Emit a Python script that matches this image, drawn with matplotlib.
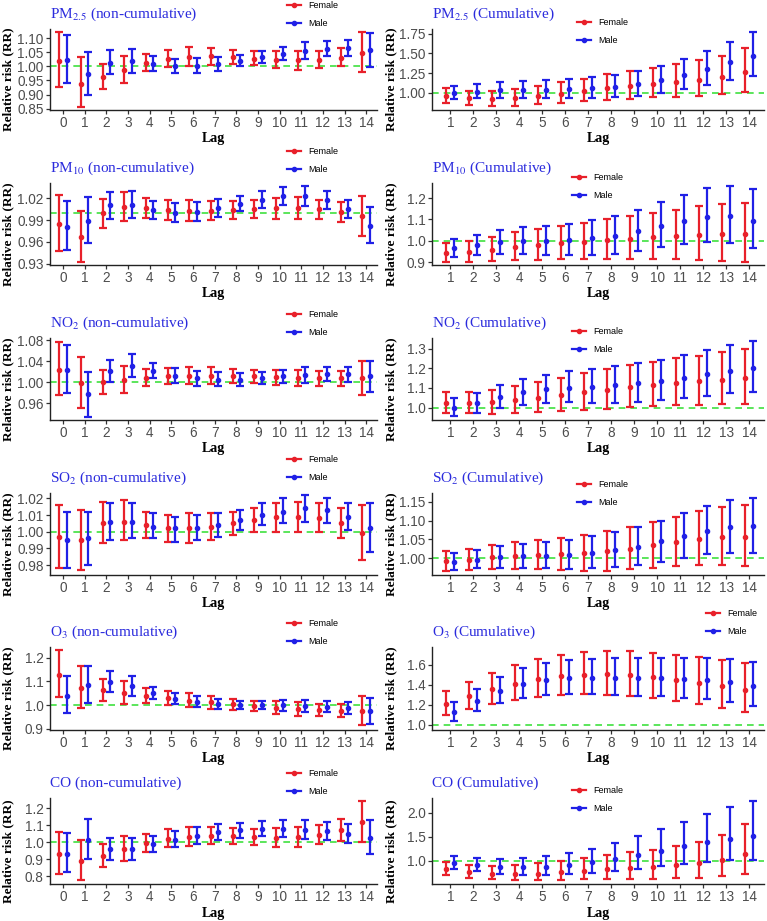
import numpy as np
import matplotlib
matplotlib.use("Agg")
import matplotlib.pyplot as plt
from matplotlib.lines import Line2D
from matplotlib.ticker import FormatStrFormatter

plt.rcParams['font.family'] = ['Liberation Sans', 'DejaVu Sans']
plt.rcParams['mathtext.fontset'] = 'stix'

lags_nc = list(range(0, 15))
lags_c = list(range(1, 15))

# PM2.5 non-cumulative
pm25_nc_f = [1.018, 0.939, 0.963, 0.988, 1.012, 1.027, 1.035, 1.036, 1.033, 1.028, 1.024, 1.021, 1.023, 1.031, 1.048]
pm25_nc_f_lo = [0.926, 0.855, 0.918, 0.942, 0.982, 0.998, 1.002, 1.006, 1.008, 1.004, 0.994, 0.988, 0.994, 1.000, 0.980]
pm25_nc_f_hi = [1.123, 1.032, 1.010, 1.038, 1.043, 1.058, 1.068, 1.066, 1.058, 1.054, 1.055, 1.055, 1.053, 1.064, 1.122]
pm25_nc_m = [1.022, 0.972, 1.013, 1.018, 1.008, 1.001, 1.002, 1.009, 1.020, 1.032, 1.045, 1.056, 1.062, 1.064, 1.057]
pm25_nc_m_lo = [0.940, 0.898, 0.972, 0.975, 0.985, 0.977, 0.976, 0.983, 1.000, 1.012, 1.022, 1.025, 1.037, 1.036, 0.998]
pm25_nc_m_hi = [1.112, 1.052, 1.057, 1.063, 1.036, 1.027, 1.030, 1.034, 1.040, 1.054, 1.070, 1.085, 1.090, 1.094, 1.120]

# PM2.5 cumulative
pm25_c_f = [0.962, 0.930, 0.915, 0.930, 0.955, 0.985, 1.020, 1.055, 1.085, 1.115, 1.140, 1.165, 1.205, 1.265]
pm25_c_f_lo = [0.870, 0.845, 0.825, 0.835, 0.855, 0.870, 0.890, 0.905, 0.925, 0.940, 0.950, 0.960, 0.985, 1.010]
pm25_c_f_hi = [1.060, 1.025, 1.020, 1.045, 1.080, 1.130, 1.180, 1.235, 1.280, 1.320, 1.365, 1.415, 1.470, 1.570]
pm25_c_m = [0.995, 1.010, 1.030, 1.035, 1.040, 1.045, 1.055, 1.075, 1.110, 1.160, 1.220, 1.300, 1.385, 1.465]
pm25_c_m_lo = [0.920, 0.930, 0.935, 0.935, 0.935, 0.930, 0.930, 0.940, 0.960, 1.000, 1.050, 1.100, 1.165, 1.215]
pm25_c_m_hi = [1.080, 1.105, 1.135, 1.155, 1.165, 1.175, 1.195, 1.230, 1.280, 1.340, 1.430, 1.535, 1.645, 1.770]

# PM10 non-cumulative
pm10_nc_f = [0.984, 0.966, 0.999, 1.008, 1.006, 1.004, 1.003, 1.003, 1.004, 1.005, 1.006, 1.006, 1.005, 1.001, 0.995]
pm10_nc_f_lo = [0.947, 0.932, 0.979, 0.989, 0.993, 0.990, 0.988, 0.990, 0.992, 0.993, 0.992, 0.991, 0.991, 0.987, 0.968]
pm10_nc_f_hi = [1.024, 1.003, 1.019, 1.029, 1.020, 1.018, 1.017, 1.016, 1.016, 1.018, 1.020, 1.022, 1.018, 1.015, 1.023]
pm10_nc_m = [0.981, 0.989, 1.010, 1.011, 1.004, 1.000, 1.001, 1.006, 1.012, 1.018, 1.023, 1.023, 1.017, 1.005, 0.982]
pm10_nc_m_lo = [0.948, 0.958, 0.992, 0.993, 0.991, 0.987, 0.988, 0.994, 1.002, 1.007, 1.010, 1.009, 1.005, 0.993, 0.958]
pm10_nc_m_hi = [1.016, 1.022, 1.029, 1.030, 1.016, 1.013, 1.015, 1.019, 1.023, 1.030, 1.035, 1.037, 1.030, 1.018, 1.008]

# PM10 cumulative
pm10_c_f = [0.945, 0.948, 0.960, 0.974, 0.981, 0.989, 0.996, 1.003, 1.009, 1.017, 1.023, 1.029, 1.032, 1.031]
pm10_c_f_lo = [0.902, 0.900, 0.907, 0.911, 0.912, 0.914, 0.914, 0.914, 0.914, 0.914, 0.914, 0.912, 0.908, 0.903]
pm10_c_f_hi = [0.992, 0.999, 1.020, 1.040, 1.055, 1.070, 1.085, 1.100, 1.115, 1.130, 1.146, 1.161, 1.171, 1.178]
pm10_c_m = [0.967, 0.980, 0.993, 1.000, 1.002, 1.005, 1.012, 1.025, 1.045, 1.070, 1.095, 1.113, 1.116, 1.095]
pm10_c_m_lo = [0.925, 0.933, 0.939, 0.939, 0.936, 0.933, 0.933, 0.940, 0.953, 0.970, 0.987, 0.995, 0.991, 0.967]
pm10_c_m_hi = [1.011, 1.030, 1.050, 1.065, 1.072, 1.080, 1.096, 1.117, 1.146, 1.180, 1.216, 1.246, 1.258, 1.241]

# NO2 non-cumulative
no2_nc_f = [1.024, 0.998, 1.000, 1.005, 1.008, 1.011, 1.012, 1.012, 1.012, 1.011, 1.009, 1.008, 1.007, 1.007, 1.007]
no2_nc_f_lo = [0.975, 0.950, 0.977, 0.980, 0.992, 0.996, 0.996, 0.996, 0.999, 0.998, 0.995, 0.993, 0.993, 0.992, 0.975]
no2_nc_f_hi = [1.077, 1.048, 1.024, 1.030, 1.025, 1.027, 1.029, 1.028, 1.025, 1.024, 1.024, 1.024, 1.022, 1.022, 1.040]
no2_nc_m = [1.024, 0.977, 1.022, 1.031, 1.021, 1.012, 1.007, 1.005, 1.005, 1.008, 1.011, 1.013, 1.015, 1.015, 1.011]
no2_nc_m_lo = [0.980, 0.934, 1.001, 1.009, 1.007, 0.998, 0.992, 0.992, 0.993, 0.997, 0.999, 0.999, 1.002, 1.001, 0.982]
no2_nc_m_hi = [1.070, 1.020, 1.043, 1.054, 1.037, 1.026, 1.022, 1.019, 1.017, 1.019, 1.024, 1.028, 1.028, 1.029, 1.041]

# NO2 cumulative
no2_c_f = [1.022, 1.023, 1.028, 1.038, 1.051, 1.064, 1.077, 1.091, 1.103, 1.114, 1.124, 1.133, 1.142, 1.151]
no2_c_f_lo = [0.973, 0.972, 0.970, 0.972, 0.978, 0.982, 0.989, 0.995, 1.002, 1.007, 1.011, 1.014, 1.018, 1.020]
no2_c_f_hi = [1.078, 1.080, 1.092, 1.110, 1.130, 1.152, 1.176, 1.197, 1.216, 1.232, 1.250, 1.265, 1.281, 1.298]
no2_c_m = [1.000, 1.022, 1.056, 1.079, 1.093, 1.102, 1.107, 1.114, 1.124, 1.136, 1.153, 1.170, 1.188, 1.203]
no2_c_m_lo = [0.955, 0.975, 1.000, 1.015, 1.023, 1.026, 1.024, 1.025, 1.030, 1.038, 1.050, 1.060, 1.074, 1.080]
no2_c_m_hi = [1.050, 1.075, 1.115, 1.148, 1.167, 1.184, 1.198, 1.210, 1.228, 1.244, 1.266, 1.292, 1.316, 1.340]

# SO2 non-cumulative
so2_nc_f = [0.997, 0.995, 1.005, 1.006, 1.004, 1.002, 1.002, 1.003, 1.005, 1.007, 1.009, 1.009, 1.008, 1.005, 0.999]
so2_nc_f_lo = [0.978, 0.977, 0.993, 0.995, 0.996, 0.994, 0.993, 0.995, 0.998, 1.000, 1.000, 1.000, 1.000, 0.996, 0.983]
so2_nc_f_hi = [1.016, 1.013, 1.018, 1.019, 1.012, 1.010, 1.011, 1.011, 1.012, 1.014, 1.017, 1.018, 1.017, 1.014, 1.016]
so2_nc_m = [0.995, 0.996, 1.006, 1.006, 1.003, 1.002, 1.002, 1.004, 1.007, 1.010, 1.012, 1.014, 1.013, 1.009, 1.002]
so2_nc_m_lo = [0.978, 0.980, 0.995, 0.996, 0.996, 0.994, 0.995, 0.997, 1.001, 1.004, 1.005, 1.006, 1.005, 1.001, 0.988]
so2_nc_m_hi = [1.012, 1.012, 1.017, 1.017, 1.011, 1.009, 1.010, 1.011, 1.013, 1.017, 1.020, 1.022, 1.020, 1.017, 1.017]

# SO2 cumulative
so2_c_f = [0.992, 0.996, 1.003, 1.006, 1.008, 1.010, 1.013, 1.018, 1.025, 1.034, 1.044, 1.052, 1.057, 1.056]
so2_c_f_lo = [0.967, 0.969, 0.971, 0.971, 0.970, 0.968, 0.967, 0.967, 0.971, 0.975, 0.979, 0.983, 0.983, 0.978]
so2_c_f_hi = [1.018, 1.025, 1.036, 1.044, 1.049, 1.055, 1.063, 1.072, 1.084, 1.097, 1.111, 1.126, 1.137, 1.141]
so2_c_m = [0.991, 0.996, 1.003, 1.006, 1.007, 1.009, 1.014, 1.021, 1.031, 1.045, 1.059, 1.072, 1.082, 1.085]
so2_c_m_lo = [0.969, 0.973, 0.974, 0.975, 0.974, 0.972, 0.973, 0.976, 0.983, 0.991, 1.001, 1.010, 1.015, 1.014]
so2_c_m_hi = [1.015, 1.021, 1.032, 1.039, 1.043, 1.049, 1.058, 1.069, 1.083, 1.100, 1.120, 1.139, 1.154, 1.161]

# O3 non-cumulative
o3_nc_f = [1.127, 1.073, 1.063, 1.053, 1.040, 1.030, 1.019, 1.011, 1.003, 0.994, 0.987, 0.982, 0.978, 0.976, 0.975]
o3_nc_f_lo = [1.032, 0.989, 1.016, 1.004, 1.010, 1.002, 0.990, 0.983, 0.979, 0.973, 0.963, 0.954, 0.952, 0.949, 0.915]
o3_nc_f_hi = [1.232, 1.166, 1.112, 1.102, 1.072, 1.060, 1.052, 1.040, 1.025, 1.016, 1.015, 1.012, 1.006, 1.005, 1.039]
o3_nc_m = [1.040, 1.085, 1.098, 1.080, 1.050, 1.027, 1.012, 1.003, 0.999, 0.998, 0.998, 0.997, 0.993, 0.987, 0.974]
o3_nc_m_lo = [0.965, 1.010, 1.055, 1.038, 1.026, 1.005, 0.990, 0.983, 0.983, 0.982, 0.976, 0.972, 0.970, 0.963, 0.921]
o3_nc_m_hi = [1.123, 1.166, 1.143, 1.125, 1.077, 1.053, 1.040, 1.027, 1.018, 1.017, 1.022, 1.022, 1.019, 1.011, 1.029]

# O3 cumulative
o3_c_f = [1.210, 1.289, 1.357, 1.413, 1.457, 1.487, 1.502, 1.505, 1.497, 1.478, 1.453, 1.421, 1.388, 1.352]
o3_c_f_lo = [1.097, 1.160, 1.210, 1.250, 1.282, 1.302, 1.306, 1.302, 1.288, 1.268, 1.240, 1.205, 1.170, 1.127]
o3_c_f_hi = [1.342, 1.430, 1.520, 1.598, 1.656, 1.698, 1.727, 1.740, 1.738, 1.722, 1.702, 1.675, 1.645, 1.622]
o3_c_m = [1.130, 1.243, 1.343, 1.410, 1.450, 1.468, 1.473, 1.470, 1.468, 1.465, 1.460, 1.450, 1.430, 1.392]
o3_c_m_lo = [1.035, 1.135, 1.215, 1.267, 1.297, 1.308, 1.310, 1.298, 1.291, 1.284, 1.272, 1.258, 1.232, 1.185]
o3_c_m_hi = [1.233, 1.361, 1.483, 1.573, 1.622, 1.648, 1.662, 1.670, 1.671, 1.670, 1.673, 1.672, 1.658, 1.632]

# CO non-cumulative
co_nc_f = [0.929, 0.889, 0.919, 0.959, 0.997, 1.021, 1.033, 1.037, 1.035, 1.029, 1.026, 1.031, 1.043, 1.071, 1.118]
co_nc_f_lo = [0.813, 0.781, 0.852, 0.888, 0.945, 0.971, 0.978, 0.988, 0.991, 0.983, 0.972, 0.972, 0.989, 1.010, 1.003]
co_nc_f_hi = [1.059, 1.013, 0.991, 1.034, 1.050, 1.076, 1.091, 1.088, 1.081, 1.077, 1.083, 1.091, 1.101, 1.135, 1.245]
co_nc_m = [0.932, 1.013, 0.959, 0.960, 0.987, 1.016, 1.039, 1.059, 1.071, 1.079, 1.079, 1.074, 1.064, 1.048, 1.026]
co_nc_m_lo = [0.826, 0.902, 0.895, 0.895, 0.943, 0.970, 0.990, 1.015, 1.028, 1.034, 1.029, 1.019, 1.014, 0.998, 0.932]
co_nc_m_hi = [1.052, 1.138, 1.026, 1.028, 1.034, 1.065, 1.091, 1.107, 1.115, 1.125, 1.133, 1.131, 1.117, 1.106, 1.131]

# CO cumulative
co_c_f = [0.830, 0.765, 0.740, 0.725, 0.740, 0.770, 0.800, 0.830, 0.860, 0.885, 0.920, 0.955, 1.025, 1.140]
co_c_f_lo = [0.700, 0.655, 0.625, 0.610, 0.605, 0.615, 0.625, 0.625, 0.630, 0.635, 0.640, 0.655, 0.690, 0.740]
co_c_f_hi = [0.975, 0.910, 0.895, 0.915, 0.955, 0.995, 1.060, 1.120, 1.180, 1.235, 1.310, 1.395, 1.535, 1.760]
co_c_m = [0.955, 0.915, 0.880, 0.865, 0.880, 0.915, 0.970, 1.040, 1.120, 1.215, 1.305, 1.390, 1.460, 1.505]
co_c_m_lo = [0.840, 0.785, 0.735, 0.720, 0.720, 0.725, 0.750, 0.790, 0.840, 0.890, 0.940, 0.980, 1.010, 1.010]
co_c_m_hi = [1.095, 1.065, 1.050, 1.055, 1.100, 1.160, 1.255, 1.370, 1.510, 1.650, 1.810, 1.970, 2.110, 2.230]

RED = '#E8202A'
BLUE = '#2020E6'
TITLE_BLUE = '#2B2BDD'

# (title, lags, female, female lo/hi, male, male lo/hi, yticks, ylim, fmt, legend px (x, y))
panels = [
    (r'PM$_{\mathrm{2.5}}$ (non-cumulative)', lags_nc, pm25_nc_f, pm25_nc_f_lo, pm25_nc_f_hi, pm25_nc_m, pm25_nc_m_lo, pm25_nc_m_hi,
     [0.85, 0.90, 0.95, 1.00, 1.05, 1.10], (0.845, 1.133), '%.2f', (287, 6)),
    (r'PM$_{\mathrm{2.5}}$ (Cumulative)', lags_c, pm25_c_f, pm25_c_f_lo, pm25_c_f_hi, pm25_c_m, pm25_c_m_lo, pm25_c_m_hi,
     [1.00, 1.25, 1.50, 1.75], (0.78, 1.81), '%.2f', (577, 23)),
    (r'PM$_{\mathrm{10}}$ (non-cumulative)', lags_nc, pm10_nc_f, pm10_nc_f_lo, pm10_nc_f_hi, pm10_nc_m, pm10_nc_m_lo, pm10_nc_m_hi,
     [0.93, 0.96, 0.99, 1.02], (0.928, 1.041), '%.2f', (287, 152)),
    (r'PM$_{\mathrm{10}}$ (Cumulative)', lags_c, pm10_c_f, pm10_c_f_lo, pm10_c_f_hi, pm10_c_m, pm10_c_m_lo, pm10_c_m_hi,
     [0.9, 1.0, 1.1, 1.2], (0.888, 1.27), '%.1f', (572, 178)),
    (r'NO$_{\mathrm{2}}$ (non-cumulative)', lags_nc, no2_nc_f, no2_nc_f_lo, no2_nc_f_hi, no2_nc_m, no2_nc_m_lo, no2_nc_m_hi,
     [0.96, 1.00, 1.04, 1.08], (0.928, 1.084), '%.2f', (287, 315)),
    (r'NO$_{\mathrm{2}}$ (Cumulative)', lags_c, no2_c_f, no2_c_f_lo, no2_c_f_hi, no2_c_m, no2_c_m_lo, no2_c_m_hi,
     [1.0, 1.1, 1.2, 1.3], (0.937, 1.354), '%.1f', (572, 332)),
    (r'SO$_{\mathrm{2}}$ (non-cumulative)', lags_nc, so2_nc_f, so2_nc_f_lo, so2_nc_f_hi, so2_nc_m, so2_nc_m_lo, so2_nc_m_hi,
     [0.98, 0.99, 1.00, 1.01, 1.02], (0.974, 1.0232), '%.2f', (287, 460)),
    (r'SO$_{\mathrm{2}}$ (Cumulative)', lags_c, so2_c_f, so2_c_f_lo, so2_c_f_hi, so2_c_m, so2_c_m_lo, so2_c_m_hi,
     [1.00, 1.05, 1.10, 1.15], (0.955, 1.174), '%.2f', (577, 485)),
    (r'O$_{\mathrm{3}}$ (non-cumulative)', lags_nc, o3_nc_f, o3_nc_f_lo, o3_nc_f_hi, o3_nc_m, o3_nc_m_lo, o3_nc_m_hi,
     [0.9, 1.0, 1.1, 1.2], (0.894, 1.246), '%.1f', (287, 624)),
    (r'O$_{\mathrm{3}}$ (Cumulative)', lags_c, o3_c_f, o3_c_f_lo, o3_c_f_hi, o3_c_m, o3_c_m_lo, o3_c_m_hi,
     [1.0, 1.2, 1.4, 1.6], (0.947, 1.78), '%.1f', (706, 614)),
    ('CO (non-cumulative)', lags_nc, co_nc_f, co_nc_f_lo, co_nc_f_hi, co_nc_m, co_nc_m_lo, co_nc_m_hi,
     [0.8, 0.9, 1.0, 1.1, 1.2], (0.755, 1.26), '%.1f', (287, 774)),
    ('CO (Cumulative)', lags_c, co_c_f, co_c_f_lo, co_c_f_hi, co_c_m, co_c_m_lo, co_c_m_hi,
     [1.0, 1.5, 2.0], (0.524, 2.30), '%.1f', (572, 791)),
]

W, H = 767, 921
fig = plt.figure(figsize=(W / 100, H / 100), dpi=100)

tops = [29, 183, 338, 493, 647, 798]
bottoms = [110, 265, 420, 575, 730, 884]
cols = [(50, 377), (432, 764)]

for i, (title, lags, f, flo, fhi, m, mlo, mhi, yt, yl, fmt, leg) in enumerate(panels):
    row, col = i // 2, i % 2
    x0, x1 = cols[col]
    ax = fig.add_axes([x0 / W, 1 - bottoms[row] / H, (x1 - x0) / W, (bottoms[row] - tops[row]) / H])

    lags = np.array(lags)
    f, flo, fhi = np.array(f), np.array(flo), np.array(fhi)
    m, mlo, mhi = np.array(m), np.array(mlo), np.array(mhi)

    ax.axhline(1.0, color='#3EE03E', ls=(0, (4, 3)), lw=1.2, zorder=1)
    ax.errorbar(lags - 0.17, f, yerr=[f - flo, fhi - f], fmt='o', ms=3, color=RED,
                elinewidth=1.6, capsize=3.2, capthick=1.6, zorder=3)
    ax.errorbar(lags + 0.17, m, yerr=[m - mlo, mhi - m], fmt='o', ms=3, color=BLUE,
                elinewidth=1.6, capsize=3.2, capthick=1.6, zorder=3)

    if col == 0:
        ax.set_xlim(-0.6, 14.5)
    else:
        ax.set_xlim(0.2, 14.65)
    ax.set_xticks(lags)
    ax.set_ylim(*yl)
    ax.set_yticks(yt)
    ax.yaxis.set_major_formatter(FormatStrFormatter(fmt))

    for s in ['top', 'right']:
        ax.spines[s].set_visible(False)
    for s in ['left', 'bottom']:
        ax.spines[s].set_color('#222222')
        ax.spines[s].set_linewidth(1.0)
    ax.tick_params(direction='out', length=3, width=0.9, color='#333333',
                   labelcolor='#4D4D4D', labelsize=9.8, pad=1.5)

    ax.set_title(title, loc='left', fontsize=11, color=TITLE_BLUE,
                 family='Liberation Serif', pad=8)
    ax.set_xlabel('Lag', fontsize=10, fontweight='bold', family='Liberation Serif')
    ax.set_ylabel('Relative risk (RR)', fontsize=9.5, fontweight='bold', family='Liberation Serif')
    ax.xaxis.set_label_coords(0.5, -0.27)
    ax.yaxis.set_label_coords(-0.108 if col == 0 else -0.105, 0.38)

    handles = [Line2D([], [], color=RED, marker='o', ms=3, lw=1.6),
               Line2D([], [], color=BLUE, marker='o', ms=3, lw=1.6)]
    lx, ly = leg
    ax.legend(handles, ['Female', 'Male'], loc='upper left',
              bbox_to_anchor=(lx / W, 1 - (ly - 5) / H), bbox_transform=fig.transFigure,
              frameon=False, fontsize=6.5, borderpad=0, borderaxespad=0,
              handlelength=1.6, handletextpad=0.8, labelspacing=1.0)

fig.savefig('out.png', dpi=100)
